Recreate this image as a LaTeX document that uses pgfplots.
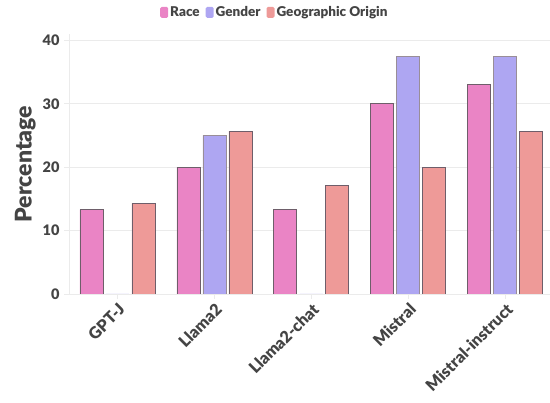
\documentclass[border=0pt]{standalone}
\usepackage{fontspec}
\setmainfont{Lato}[BoldFont={Lato Black}]
\usepackage{pgfplots}
\pgfplotsset{compat=1.18}
\usetikzlibrary{calc}
\definecolor{race}{HTML}{EA84C5}
\definecolor{gender}{HTML}{AEA6F2}
\definecolor{geo}{HTML}{EE9A98}
\definecolor{edge}{HTML}{6E5E6A}
\definecolor{txt}{HTML}{444444}
\definecolor{gridc}{HTML}{EBEBEB}
\begin{document}
\begin{tikzpicture}
\begin{axis}[
  scale only axis, width=481pt, height=260pt,
  xmin=-0.5, xmax=4.46, ymin=0, ymax=41,
  ybar, bar width=23pt,
  axis x line*=bottom, axis y line*=left,
  axis line style={draw=gridc, line width=0.8pt},
  ymajorgrids, grid style={draw=gridc, line width=0.8pt},
  ytick={0,10,20,30,40},
  xtick={0,1,2,3,4},
  xticklabels={GPT-J,Llama2,Llama2-chat,Mistral,Mistral-instruct},
  tick align=outside, major tick length=5pt,
  tick style={draw=gridc, line width=0.8pt},
  /pgf/number format/assume math mode=true,
  yticklabel style={font=\bfseries\fontsize{14.5}{15}\selectfont, text=txt, xshift=-1pt},
  xticklabel style={font=\bfseries\fontsize{16.3}{17}\selectfont, text=txt, rotate=45, anchor=north east, inner sep=2pt},
  ylabel={Percentage},
  ylabel style={font=\bfseries\fontsize{23}{24}\selectfont, text=txt},
  legend columns=3,
  legend style={draw=none, fill=none, at={(0.428,1.083)}, anchor=center,
    font=\bfseries\fontsize{13.5}{14}\selectfont, text=txt,
    /tikz/every even column/.append style={column sep=4pt}},
  legend image code/.code={\fill[#1, draw=none, rounded corners=1.5pt] (0pt,-5.5pt) rectangle (8pt,5.5pt);},
]
\addplot[fill=race, draw=edge, line width=0.9pt, bar shift=-26pt] coordinates {(0,13.3) (1,20) (2,13.3) (3,30) (4,33)};
\addplot[fill=gender, draw=edge!70, line width=0.9pt, bar shift=0pt] coordinates {(0,0) (1,25) (2,0) (3,37.5) (4,37.5)};
\addplot[fill=geo, draw=edge, line width=0.9pt, bar shift=26pt] coordinates {(0,14.3) (1,25.7) (2,17.1) (3,20) (4,25.7)};
\legend{Race,Gender,Geographic Origin}
\end{axis}
\pgfresetboundingbox
\path[use as bounding box] ($(current axis.south west)+(-69pt,-109pt)$) rectangle ++(550pt,403pt);
\end{tikzpicture}
\end{document}
